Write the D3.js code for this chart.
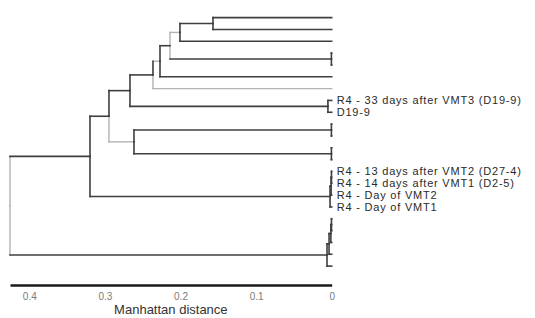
<!DOCTYPE html>
<html><head><meta charset="utf-8">
<script src="https://cdn.jsdelivr.net/npm/d3@7"></script>
<style>html,body{margin:0;padding:0;background:#fff;} svg{display:block;font-family:"Liberation Sans",Arial,sans-serif;}</style>
</head><body><svg id="chart" width="535" height="318"></svg>
<script>
// Leaves, top to bottom (only some carry visible labels)
const leafLabels = ["", "", "", "", "", "", "",
  "R4 - 33 days after VMT3 (D19-9)", "D19-9",
  "", "", "", "",
  "R4 - 13 days after VMT2 (D27-4)", "R4 - 14 days after VMT1 (D2-5)",
  "R4 - Day of VMT2", "R4 - Day of VMT1",
  "", "", "", "", ""];
// Linkage: merge i creates node id (leafCount + i)
const mergeLeft    = [0, 22, 3, 23, 25, 26, 7, 27, 9, 11, 30, 29, 13, 34, 35, 33, 17, 38, 39, 40, 37];
const mergeRight   = [1, 2, 4, 24, 5, 6, 8, 28, 10, 12, 31, 32, 14, 15, 16, 36, 18, 19, 20, 21, 41];
const mergeHeights = [0.157, 0.2007, 0.0004, 0.2139, 0.2271, 0.2364, 0.005, 0.2668, 0.0004, 0.0004, 0.2615, 0.2946, 0.0003, 0.0008, 0.0022, 0.3197, 0.0003, 0.0011, 0.0035, 0.0062, 0.4255];
// Node ids whose link segments belong to the secondary (light) group
const lightHorizontal = [23, 26, 6, 32];
const lightVertical = [23, 24, 6, 32, 37, 41];
const axisTicks = [0.4, 0.3, 0.2, 0.1, 0];
const axisTickLabels = ["0.4", "0.3", "0.2", "0.1", "0"];
const axisTitle = "Manhattan distance";

const W = 535, H = 318;
const nLeaves = leafLabels.length;
const rootId = nLeaves + mergeHeights.length - 1;

function build(id) {
  if (id < nLeaves) return { id, label: leafLabels[id], h: 0 };
  const i = id - nLeaves;
  return { id, h: mergeHeights[i], children: [build(mergeLeft[i]), build(mergeRight[i])] };
}
const root = d3.hierarchy(build(rootId));
d3.cluster().size([1, 1]).separation(() => 1)(root);

const x = d3.scaleLinear().domain([d3.max(mergeHeights), 0]).range([10, 331.7]);
const y = d3.scaleLinear().domain([0, 1]).range([11.7, 272]);

const svg = d3.select("#chart");
svg.append("rect").attr("width", W).attr("height", H).attr("fill", "#fff");

const DARK = "#3f3f3f", LIGHT = "#b2b2b2";
const segs = [];
root.descendants().forEach(n => {
  if (!n.parent) return;
  const p = n.parent;
  const px = x(p.data.h), py = y(p.x), ny = y(n.x), nx = x(n.data.h);
  segs.push({ x1: px, y1: py, x2: px, y2: ny, light: lightVertical.includes(n.data.id) });
  segs.push({ x1: px, y1: ny, x2: nx, y2: ny, light: lightHorizontal.includes(n.data.id) });
});
segs.sort((a, b) => (b.light ? 1 : 0) - (a.light ? 1 : 0));
svg.append("g").selectAll("line").data(segs).join("line")
  .attr("x1", d => d.x1).attr("y1", d => d.y1)
  .attr("x2", d => d.x2).attr("y2", d => d.y2)
  .attr("stroke", d => d.light ? LIGHT : DARK)
  .attr("stroke-width", d => d.light ? 1.4 : 1.6)
  .attr("stroke-linecap", "square");

svg.append("g").selectAll("text").data(root.leaves().filter(d => d.data.label)).join("text")
  .attr("x", x(0) + 5).attr("y", d => y(d.x)).attr("dy", "0.36em")
  .attr("font-size", 11).attr("letter-spacing", 0.8).attr("fill", "#2a2a2a")
  .text(d => d.data.label);

const axisY = 285;
const ax = svg.append("g").attr("transform", `translate(0,${axisY})`)
  .call(d3.axisBottom(x).tickValues(axisTicks).tickFormat((d, i) => axisTickLabels[i])
    .tickSize(0).tickSizeOuter(0).tickPadding(8));
ax.select(".domain").attr("stroke", "#1a1a1a").attr("stroke-width", 2.5);
ax.selectAll("text").attr("font-size", 10).attr("fill", "#7a7a7a").attr("font-family", "Liberation Sans, Arial, sans-serif");

svg.append("text").attr("x", (x.range()[0] + x.range()[1]) / 2).attr("y", 314)
  .attr("text-anchor", "middle").attr("font-size", 13).attr("fill", "#333")
  .text(axisTitle);
</script></body></html>
